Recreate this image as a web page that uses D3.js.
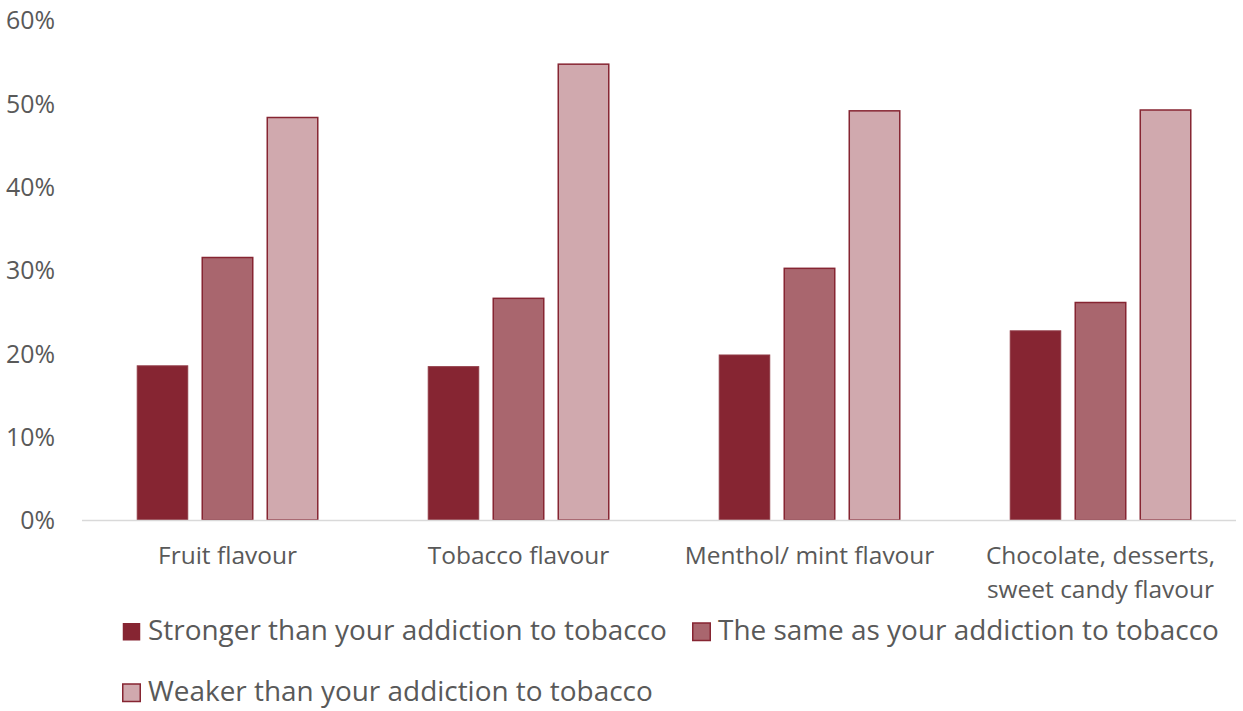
<!DOCTYPE html>
<html><head><meta charset="utf-8">
<script src="https://cdn.jsdelivr.net/npm/d3@7"></script>
<style>body{margin:0;background:#fff}svg{display:block}text{font-family:"Open Sans",sans-serif;fill:#595959}</style>
</head><body><svg id="c" width="1243" height="711"></svg>
<script>
const categories = ["Fruit flavour","Tobacco flavour","Menthol/ mint flavour","Chocolate, desserts, sweet candy flavour"];
const categoryLines = [["Fruit flavour"],["Tobacco flavour"],["Menthol/ mint flavour"],["Chocolate, desserts,","sweet candy flavour"]];
const seriesNames = ["Stronger than your addiction to tobacco","The same as your addiction to tobacco","Weaker than your addiction to tobacco"];
const stronger = [18.5, 18.4, 19.8, 22.7];
const same = [31.5, 26.6, 30.2, 26.1];
const weaker = [48.3, 54.7, 49.1, 49.2];
const yTicks = [0,10,20,30,40,50,60];
const colors = ["#862532","#A9666E","#D0A9AE"];

const series = [stronger, same, weaker];
const svg = d3.select("#c");
const mLeft = 82, mRight = 1246, mTop = 20, mBottom = 520;
const x0 = d3.scaleBand().domain(categories).range([mLeft, mRight]).padding(0);
const x1 = d3.scaleBand().domain(d3.range(3)).range([0, x0.bandwidth()]).paddingInner(0.2).paddingOuter(0.838);
const y = d3.scaleLinear().domain([0,60]).range([mBottom, mTop]);

// fit a font size so that a sample string has a given width
function fitSize(sample, width) {
  const t = svg.append("text").style("font-size","20px").text(sample);
  const w = t.node().getComputedTextLength();
  t.remove();
  return 20 * width / w;
}
const tickSize = fitSize("60%", 49);
const catSize = fitSize("Fruit flavour", 139);
const legSize = fitSize(seriesNames[0], 519);

const yAxis = d3.axisLeft(y).tickValues(yTicks).tickFormat(d => d + "%").tickSize(0).tickPadding(0);
const ya = svg.append("g").attr("transform", `translate(55,0)`).call(yAxis);
ya.select(".domain").remove();
ya.selectAll("text").style("font-size", tickSize + "px").style("font-family","'Open Sans'").attr("fill","#595959").attr("dy","0.35em");

const g = svg.append("g");
categories.forEach((c, i) => {
  series.forEach((s, k) => {
    g.append("rect")
      .attr("x", x0(c) + x1(k) + 0.75)
      .attr("width", x1.bandwidth() - 1.5)
      .attr("y", y(s[i]))
      .attr("height", y(0) - y(s[i]))
      .attr("fill", colors[k])
      .attr("stroke", k === 0 ? "#8f3a45" : "#862532")
      .attr("stroke-width", k === 0 ? 1 : 1.5);
  });
});

svg.append("line").attr("x1", mLeft).attr("x2", 1236).attr("y1", mBottom + 0.5).attr("y2", mBottom + 0.5)
  .attr("stroke", "#d9d9d9").attr("stroke-width", 1.5);

categories.forEach((c, i) => {
  const cx = x0(c) + x0.bandwidth()/2;
  const t = svg.append("text").attr("text-anchor","middle").style("font-size", catSize + "px").attr("x", cx).attr("y", 564);
  categoryLines[i].forEach((ln, j) => t.append("tspan").attr("x", cx).attr("dy", j ? 34 : 0).text(ln));
});

const legPos = [[122,632],[692,632],[122,693]];
seriesNames.forEach((n, k) => {
  const [lx, ly] = legPos[k];
  svg.append("rect").attr("x", lx + 0.75).attr("y", ly - 9).attr("width", 17.5).attr("height", 17.5)
    .attr("fill", colors[k]).attr("stroke", "#862532").attr("stroke-width", k === 0 ? 0 : 1.5);
  svg.append("text").attr("x", lx + 26).attr("y", ly + 8).style("font-size", legSize + "px").text(n);
});
</script></body></html>
